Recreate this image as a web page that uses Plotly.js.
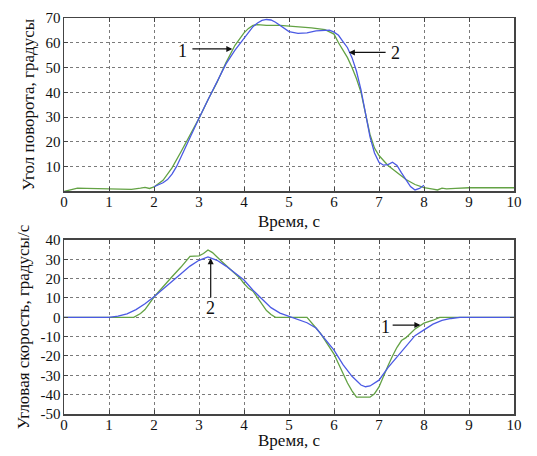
<!DOCTYPE html>
<html>
<head>
<meta charset="utf-8">
<script src="https://cdn.plot.ly/plotly-3.0.1.min.js"></script>
<style>html,body{margin:0;padding:0;background:#fff;}#chart{width:537px;height:456px;}</style>
</head>
<body>
<div id="chart"></div>
<script>
// Angle plot, curve 1 (green)
var angle1T = [0,0.15,0.3,0.5,0.8,1.0,1.3,1.5,1.7,1.8,1.9,2.0,2.2,2.4,2.6,2.8,3.0,3.2,3.4,3.6,3.8,3.9,4.0,4.1,4.2,4.3,4.5,4.8,5.0,5.2,5.5,5.8,6.0,6.1,6.2,6.3,6.4,6.5,6.6,6.7,6.8,6.9,7.0,7.2,7.4,7.6,7.8,8.0,8.2,8.3,8.4,8.5,8.7,9.0,9.5,10];
var angle1V = [0,0.8,1.3,1.2,1.1,1.1,1.0,0.8,1.3,1.6,1.2,1.8,4.5,9.5,16,22.5,29.5,37,44,52,59,61.5,64,65.8,67,67.3,67,67,66.8,66.5,66,65.3,63.5,60,57,54,50,45.5,40,32,23,17.5,14.5,10.5,7.5,4.8,2.8,1.5,0.9,0.6,1.3,1.0,1.2,1.5,1.5,1.5];
// Angle plot, curve 2 (blue)
var angle2T = [2.0,2.1,2.2,2.3,2.4,2.5,2.6,2.8,3.0,3.2,3.4,3.6,3.8,4.0,4.1,4.2,4.3,4.4,4.5,4.6,4.7,4.8,4.9,5.0,5.2,5.4,5.6,5.8,5.9,6.0,6.1,6.2,6.3,6.4,6.5,6.6,6.7,6.8,6.9,7.0,7.1,7.2,7.3,7.4,7.5,7.6,7.7,7.8,7.9,8.0];
var angle2V = [1.9,2.8,3.5,4.8,7,10,14,21.5,29.5,37,44.5,51.5,57,62,64.5,66.5,68,69,69.4,69.2,68.3,67,65.5,64.5,63.8,64,64.8,65.2,65.1,64.3,63,60.5,58,54,48.5,41,32,22,15.5,11.8,10.6,10.8,11.8,10.5,7.5,4.5,2,0.6,1.2,2.5];
// Velocity plot, curve 1 (green)
var vel1T = [0,1.55,1.7,1.8,2.0,2.2,2.4,2.6,2.8,3.0,3.1,3.2,3.3,3.5,3.7,3.9,4.0,4.1,4.2,4.3,4.4,4.5,4.6,4.7,5.4,5.5,5.6,5.7,5.8,5.9,6.0,6.1,6.2,6.3,6.4,6.5,6.8,6.9,7.0,7.1,7.2,7.3,7.4,7.5,7.6,7.8,8.0,8.2,8.35,10];
var vel1V = [0,0,2,4,10.5,16,21,26,31.5,31.8,33,34.8,33.5,29,25,20.5,17.5,15,13.5,10,6.5,3.5,1.5,0,0,-3,-5.5,-8.3,-12,-15,-19,-24,-29,-34,-38,-41.3,-41.3,-39.5,-36,-30,-25,-20,-15.5,-12,-10.5,-6,-3,-1.5,0,0];
// Velocity plot, curve 2 (blue)
var vel2T = [0,1.0,1.2,1.4,1.6,1.8,2.0,2.2,2.4,2.6,2.8,3.0,3.2,3.4,3.6,3.8,4.0,4.2,4.4,4.6,4.8,5.0,5.2,5.4,5.6,5.8,6.0,6.2,6.4,6.6,6.7,6.8,7.0,7.2,7.4,7.6,7.8,8.0,8.2,8.4,8.6,8.8,10];
var vel2V = [0,0,0.6,1.8,4,7,10.7,14.5,18.5,22.5,26.5,29.5,31.2,29.5,26.5,23,19.3,14,9.5,5,2.2,0.5,-1.2,-2.8,-5.5,-11,-17,-24.5,-30.5,-35,-35.9,-35.5,-32.5,-26,-20.4,-14.5,-9.5,-6.5,-3.5,-1.6,-0.6,0,0];

var xTicks = [0,1,2,3,4,5,6,7,8,9,10];
var angleTicks = [10,20,30,40,50,60,70];
var velTicks = [-50,-40,-30,-20,-10,0,10,20,30,40];
var velTickText = ['-50','-40','-30','-20','-10','0','10','20','30','40'];

var xTitle = 'Время, с';
var angleTitle = 'Угол поворота, градусы';
var velTitle = 'Угловая скорость, градусы/с';

// annotations: [xText, yText, xHead, yHead, xTail, yTail, label, axis]
var labelArrows = [
  [2.63, 56.6, 3.74, 57.5, 2.82, 57.5, '1', 'top'],
  [7.37, 55.9, 6.33, 56.1, 7.18, 56.1, '2', 'top'],
  [3.26, 5.0, 3.26, 30.5, 3.26, 9.5, '2', 'bot'],
  [7.14, -4.9, 7.92, -4.0, 7.27, -4.0, '1', 'bot']
];

var green = '#63a244';
var blue = '#4b5ae4';
var FAM = '"Liberation Serif", serif';
var font = {family: FAM, size: 16, color: '#111'};

function axX(anchor) {
  return {
    anchor: anchor, range: [0, 10], tickmode: 'array', tickvals: xTicks, ticktext: xTicks.map(String),
    showgrid: true, gridcolor: '#7a7a7a', griddash: 'dot', gridwidth: 1,
    showline: true, linecolor: '#444', linewidth: 1.5, mirror: 'ticks',
    ticks: 'inside', ticklen: 4, tickcolor: '#444', zeroline: false,
    tickfont: {family: FAM, size: 15, color: '#111'}, ticklabelstandoff: -4
  };
}
function axY(anchor, domain, range, vals, text, title) {
  return {
    anchor: anchor, domain: domain, range: range, tickmode: 'array', tickvals: vals, ticktext: text,
    showgrid: true, gridcolor: '#7a7a7a', griddash: 'dot', gridwidth: 1,
    showline: true, linecolor: '#444', linewidth: 1.5, mirror: 'ticks',
    ticks: 'inside', ticklen: 4, tickcolor: '#444', zeroline: false,
    tickfont: {family: FAM, size: 15, color: '#111'}, ticklabelstandoff: -1,
    title: {text: title, font: {family: FAM, size: 17, color: '#111'}, standoff: 6}
  };
}

var traces = [
  {x: angle1T, y: angle1V, xaxis: 'x2', yaxis: 'y2', mode: 'lines', line: {color: green, width: 1.3}, hoverinfo: 'skip'},
  {x: angle2T, y: angle2V, xaxis: 'x2', yaxis: 'y2', mode: 'lines', line: {color: blue, width: 1.3}, hoverinfo: 'skip'},
  {x: vel1T, y: vel1V, xaxis: 'x', yaxis: 'y', mode: 'lines', line: {color: green, width: 1.3}, hoverinfo: 'skip'},
  {x: vel2T, y: vel2V, xaxis: 'x', yaxis: 'y', mode: 'lines', line: {color: blue, width: 1.3}, hoverinfo: 'skip'}
];

var annotations = [];
labelArrows.forEach(function (a) {
  var xr = a[7] === 'top' ? 'x2' : 'x';
  var yr = a[7] === 'top' ? 'y2' : 'y';
  annotations.push({x: a[2], y: a[3], ax: a[4], ay: a[5], xref: xr, yref: yr, axref: xr, ayref: yr,
    text: '', showarrow: true, arrowhead: 2, arrowsize: 1, arrowwidth: 1.2, arrowcolor: '#111'});
  annotations.push({x: a[0], y: a[1], xref: xr, yref: yr, text: a[6], showarrow: false,
    font: {family: FAM, size: 18, color: '#111'}});
});
// x-axis titles
[0.487, -0.068].forEach(function (py) {
  annotations.push({x: 0.5, y: py, xref: 'paper', yref: 'paper', text: xTitle, showarrow: false,
    xanchor: 'center', yanchor: 'middle', font: {family: FAM, size: 17, color: '#111'}});
});

var layout = {
  width: 537, height: 456,
  margin: {l: 63.5, r: 23, t: 18, b: 42},
  paper_bgcolor: '#fff', plot_bgcolor: '#fff',
  showlegend: false,
  font: font,
  xaxis: axX('y'),
  xaxis2: axX('y2'),
  yaxis: axY('x', [0, 0.4394], [-50, 40], velTicks, velTickText, velTitle),
  yaxis2: axY('x2', [0.562, 1], [0, 70], angleTicks, angleTicks.map(String), angleTitle),
  annotations: annotations
};

Plotly.newPlot('chart', traces, layout, {staticPlot: true, displayModeBar: false});
</script>
</body>
</html>
